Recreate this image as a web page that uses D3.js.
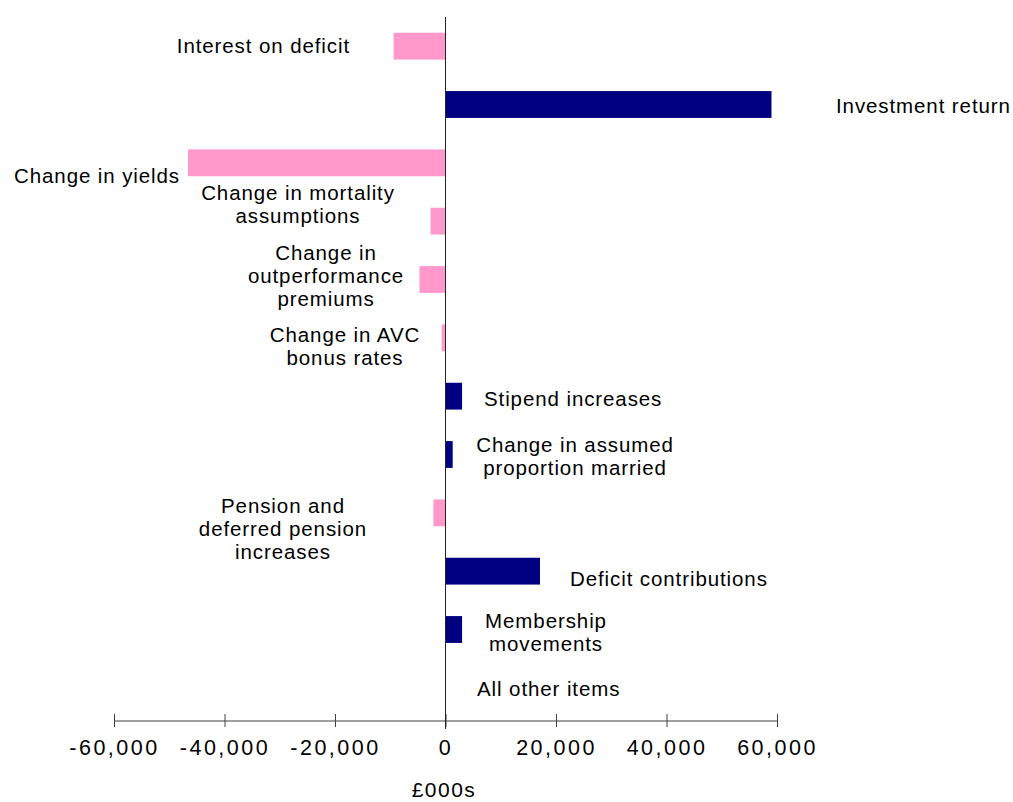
<!DOCTYPE html>
<html>
<head>
<meta charset="utf-8">
<script src="https://cdn.jsdelivr.net/npm/d3@7"></script>
<style>
  body { margin: 0; background: #fff; }
  svg { display: block; font-family: "Liberation Sans", Arial, sans-serif; }
</style>
</head>
<body>
<div id="chart"></div>
<script>
// Data (£000s)
const categories = [
    "Interest on deficit",
    "Investment return",
    "Change in yields",
    "Change in mortality assumptions",
    "Change in outperformance premiums",
    "Change in AVC bonus rates",
    "Stipend increases",
    "Change in assumed proportion married",
    "Pension and deferred pension increases",
    "Deficit contributions",
    "Membership movements",
    "All other items"
];
const values = [-9400, 59000, -46600, -2700, -4700, -700, 3000, 1300, -2200, 17100, 3000, 0];
const labelLines = [
    ["Interest on deficit"],
    ["Investment return"],
    ["Change in yields"],
    ["Change in mortality", "assumptions"],
    ["Change in", "outperformance", "premiums"],
    ["Change in AVC", "bonus rates"],
    ["Stipend increases"],
    ["Change in assumed", "proportion married"],
    ["Pension and", "deferred pension", "increases"],
    ["Deficit contributions"],
    ["Membership", "movements"],
    ["All other items"]
];
const xTicks = [-60000, -40000, -20000, 0, 20000, 40000, 60000];

// label placement (anchor point relative to category centre): [x in px, dy, anchor]
const labelPlace = [
    [350, 0, "end"], [836, 1, "start"], [180, 13, "end"],
    [298, -17, "middle"], [326, -4, "middle"], [345, 8, "middle"],
    [484, 3, "start"], [575, 2, "middle"], [283, 16, "middle"],
    [570, 8, "start"], [546, 3, "middle"], [477, 1, "start"]
];

const WIDTH = 1013, HEIGHT = 802;
const svg = d3.select("#chart").append("svg")
    .attr("width", WIDTH).attr("height", HEIGHT);

const x = d3.scaleLinear().domain([-60000, 60000]).range([114, 777]);
const y = d3.scaleBand().domain(categories).range([17, 717])
    .paddingInner(0.54).paddingOuter(0.27);

// bars
svg.selectAll("rect.bar")
   .data(categories)
   .join("rect")
   .attr("class", "bar")
   .attr("x", (d, i) => x(Math.min(0, values[i])))
   .attr("y", d => y(d))
   .attr("width", (d, i) => Math.abs(x(values[i]) - x(0)))
   .attr("height", y.bandwidth())
   .attr("fill", (d, i) => values[i] < 0 ? "#ff99cc" : "#000080");

// x axis
const axisY = 721;
const fmt = d3.format(",");
const xAxis = svg.append("g")
    .attr("transform", `translate(0,${axisY})`)
    .call(d3.axisBottom(x).tickValues(xTicks).tickSize(7)
            .tickFormat(d => fmt(d).replace("\u2212", "-")));
xAxis.select(".domain").remove();
xAxis.append("line")
    .attr("x1", x(-60000)).attr("x2", x(60000))
    .attr("stroke", "#404040");
xAxis.selectAll(".tick line")
    .attr("y1", -7).attr("y2", 6).attr("stroke", "#404040");
xAxis.selectAll(".tick text")
    .attr("y", 0).attr("dy", "34px")
    .attr("fill", "#000")
    .style("font-size", "21.5px")
    .style("letter-spacing", "2.5px")
    .style("font-family", "Liberation Sans, Arial, sans-serif");

// vertical zero line
svg.append("line")
   .attr("x1", x(0)).attr("x2", x(0))
   .attr("y1", 17).attr("y2", 729)
   .attr("stroke", "#222");

// axis title
svg.append("text")
   .attr("x", 444).attr("y", 797)
   .attr("text-anchor", "middle")
   .style("font-size", "21px")
   .style("letter-spacing", "1.5px")
   .text("£000s");

// category labels
const lineH = 23;
categories.forEach((c, i) => {
    const [lx, dy, anchor] = labelPlace[i];
    const lines = labelLines[i];
    const cy = y(c) + y.bandwidth() / 2 + dy;
    const t = svg.append("text")
        .attr("text-anchor", anchor)
        .style("font-size", "20.5px")
        .style("letter-spacing", "0.9px")
        .attr("fill", "#000");
    lines.forEach((ln, j) => {
        t.append("tspan")
         .attr("x", lx)
         .attr("y", cy + (j - (lines.length - 1) / 2) * lineH)
         .attr("dy", "0.35em")
         .text(ln);
    });
});
</script>
</body>
</html>
